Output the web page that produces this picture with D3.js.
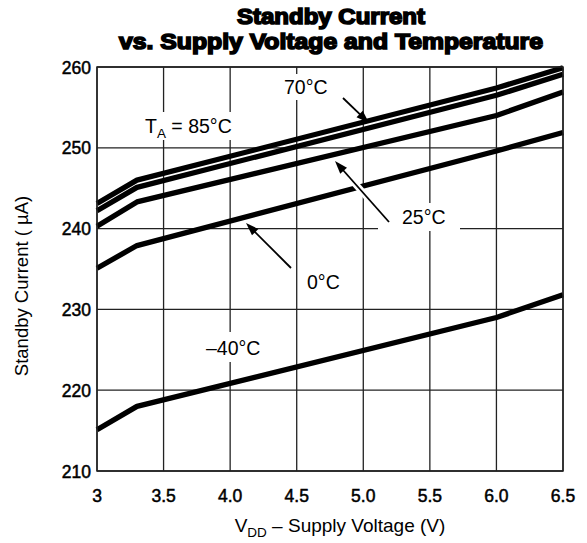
<!DOCTYPE html>
<html><head><meta charset="utf-8">
<script src="https://cdn.jsdelivr.net/npm/d3@7"></script>
<style>body{margin:0;background:#fff}svg{display:block}</style>
</head><body>
<svg id="c" width="587" height="543"></svg>
<script>
const voltages = [3.0, 3.3, 6.0, 6.5];
const t85 = [243.1, 246.0, 257.4, 259.9];
const t70 = [242.2, 245.1, 256.5, 259.1];
const t25 = [240.3, 243.3, 254.0, 256.9];
const t0 = [235.1, 237.9, 249.6, 251.9];
const tm40 = [215.1, 218.0, 229.0, 231.8];
const xTicks = [3, 3.5, 4.0, 4.5, 5.0, 5.5, 6.0, 6.5];
const xTickLabels = ["3", "3.5", "4.0", "4.5", "5.0", "5.5", "6.0", "6.5"];
const yTicks = [210, 220, 230, 240, 250, 260];

const series = [
  {name: "85", values: t85},
  {name: "70", values: t70},
  {name: "25", values: t25},
  {name: "0", values: t0},
  {name: "-40", values: tm40}
];

const svg = d3.select("#c");
const x = d3.scaleLinear().domain([3, 6.5]).range([97, 563]);
const y = d3.scaleLinear().domain([210, 260]).range([471, 67]);
const F = "'Liberation Sans', Arial, Helvetica, sans-serif";

// grid
const g = svg.append("g");
g.selectAll("line.v").data(xTicks).join("line")
  .attr("x1", d => x(d)).attr("x2", d => x(d)).attr("y1", y(260)).attr("y2", y(210))
  .attr("stroke", "#222").attr("stroke-width", 1.3);
g.selectAll("line.h").data(yTicks).join("line")
  .attr("y1", d => y(d)).attr("y2", d => y(d)).attr("x1", x(3)).attr("x2", x(6.5))
  .attr("stroke", "#222").attr("stroke-width", 1.3);

// white masks behind labels (grid breaks)
const masks = [
  [280, 74, 56, 26],   // 70°C
  [140, 112, 100, 28], // TA = 85°C
  [378, 203, 82, 28],  // 25°C
  [302, 266, 48, 30],  // 0°C
  [202, 332, 68, 30]   // -40°C
];
svg.selectAll("rect.m").data(masks).join("rect")
  .attr("x", d => d[0]).attr("y", d => d[1]).attr("width", d => d[2]).attr("height", d => d[3])
  .attr("fill", "#fff");

// curves
const line = d3.line().x((d, i) => x(voltages[i])).y(d => y(d));
svg.selectAll("path.s").data(series).join("path")
  .attr("d", d => line(d.values))
  .attr("fill", "none").attr("stroke", "#000").attr("stroke-width", 5.3)
  .attr("stroke-linejoin", "round");

// arrows
const arrows = [
  {from: [343, 98], to: [369, 123]},   // 70°C
  {from: [389, 222], to: [335, 161]},  // 25°C
  {from: [291, 268], to: [246, 223]}   // 0°C
];
function arrow(a) {
  const [x1, y1] = a.from, [x2, y2] = a.to;
  const ang = Math.atan2(y2 - y1, x2 - x1);
  const L = 13, W = 4.5;
  const bx = x2 - L * Math.cos(ang), by = y2 - L * Math.sin(ang);
  const px = -Math.sin(ang) * W, py = Math.cos(ang) * W;
  svg.append("line").attr("x1", x1).attr("y1", y1).attr("x2", bx).attr("y2", by)
    .attr("stroke", "#fff").attr("stroke-width", 7);
  svg.append("line").attr("x1", x1).attr("y1", y1).attr("x2", bx + 2*Math.cos(ang)).attr("y2", by + 2*Math.sin(ang))
    .attr("stroke", "#000").attr("stroke-width", 1.8);
  svg.append("path").attr("d", `M${x2},${y2}L${bx+px},${by+py}L${bx-px},${by-py}Z`).attr("fill", "#000");
}
arrows.forEach(arrow);

// axis frame
svg.append("rect").attr("x", x(3)).attr("y", y(260)).attr("width", x(6.5) - x(3)).attr("height", y(210) - y(260))
  .attr("fill", "none").attr("stroke", "#222").attr("stroke-width", 1.5);

// labels
const LS = 19.5;
const lab = (tx, ty, txt) => svg.append("text").attr("x", tx).attr("y", ty)
  .attr("font-family", F).attr("font-size", LS).attr("fill", "#000").text(txt);
lab(284, 94, "70°C");
lab(402, 224, "25°C");
lab(307, 289, "0°C");
lab(206, 355, "–40°C");
const ta = svg.append("text").attr("x", 145).attr("y", 133).attr("font-family", F).attr("font-size", LS);
ta.append("tspan").text("T");
ta.append("tspan").attr("font-size", 13.5).attr("dy", 5).text("A");
ta.append("tspan").attr("dy", -5).text(" = 85°C");

// tick labels
svg.selectAll("text.yt").data(yTicks).join("text")
  .attr("x", 91).attr("y", d => y(d) + 6.5).attr("text-anchor", "end")
  .attr("font-family", F).attr("font-size", 17.5).attr("stroke", "#000").attr("stroke-width", 0.5).text(d => d);
svg.selectAll("text.xt").data(xTicks).join("text")
  .attr("x", d => x(d)).attr("y", 502).attr("text-anchor", "middle")
  .attr("font-family", F).attr("font-size", 17.5).attr("stroke", "#000").attr("stroke-width", 0.5).text((d, i) => xTickLabels[i]);

// axis titles
svg.append("text").attr("transform", "translate(28,286) rotate(-90)").attr("text-anchor", "middle")
  .attr("font-family", F).attr("font-size", 18.5).text("Standby Current ( µA)");
const xt = svg.append("text").attr("x", 340).attr("y", 532).attr("text-anchor", "middle")
  .attr("font-family", F).attr("font-size", 19);
xt.append("tspan").text("V");
xt.append("tspan").attr("font-size", 13.5).attr("dy", 5).text("DD");
xt.append("tspan").attr("dy", -5).text(" – Supply Voltage (V)");

// title
svg.append("text").attr("x", 331).attr("y", 24).attr("text-anchor", "middle")
  .attr("font-family", F).attr("font-size", 21.5).attr("font-weight", "bold")
  .attr("stroke", "#000").attr("stroke-width", 1.6).attr("textLength", 188).attr("lengthAdjust", "spacingAndGlyphs")
  .text("Standby Current");
svg.append("text").attr("x", 331).attr("y", 49).attr("text-anchor", "middle")
  .attr("font-family", F).attr("font-size", 21.5).attr("font-weight", "bold")
  .attr("stroke", "#000").attr("stroke-width", 1.6).attr("textLength", 424).attr("lengthAdjust", "spacingAndGlyphs")
  .text("vs. Supply Voltage and Temperature");
</script>
</body></html>
